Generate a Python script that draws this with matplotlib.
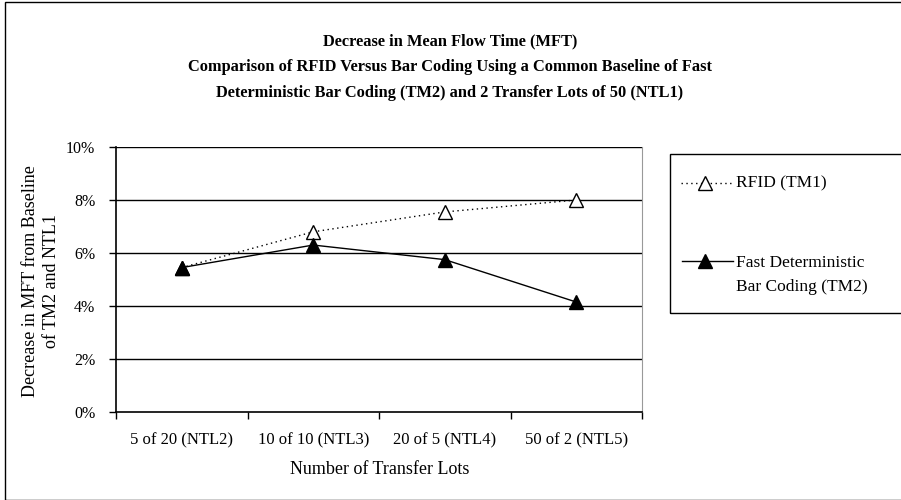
import matplotlib.pyplot as plt
from matplotlib.patches import Rectangle
from matplotlib.lines import Line2D
from matplotlib.ticker import FuncFormatter

# valores de la grafica
lotes = ['5 of 20 (NTL2)', '10 of 10 (NTL3)', '20 of 5 (NTL4)', '50 of 2 (NTL5)']
rfid = [5.45, 6.8, 7.55, 8.0]
barras = [5.45, 6.3, 5.75, 4.15]

plt.rcParams['font.family'] = ['Liberation Serif', 'DejaVu Serif']

fig = plt.figure(figsize=(9.01, 5.0), dpi=100)
W, H = 901, 500

# marco exterior de la grafica
fig.patches.append(Rectangle((5 / W, 0), 1.2, (H - 2) / H, transform=fig.transFigure,
                             fill=False, edgecolor='black', linewidth=1.0))

ax = fig.add_axes([116 / W, 88 / H, (642 - 116) / W, (412 - 147) / H])
x = list(range(len(lotes)))

ax.plot(x, rfid, linestyle=(0, (1, 2.5)), color='black', linewidth=1.0,
        marker='^', markersize=10, markerfacecolor='white', markeredgecolor='black',
        markeredgewidth=1.0, label='RFID (TM1)', zorder=3)
ax.plot(x, barras, linestyle='-', color='black', linewidth=1.0,
        marker='^', markersize=10, markerfacecolor='black', markeredgecolor='black',
        label='Fast Deterministic\nBar Coding (TM2)', zorder=4)

ax.set_xlim(-0.5, len(lotes) - 0.5)
ax.set_ylim(0, 10)

# lineas horizontales de la cuadricula
for v in [2, 4, 6, 8, 10]:
    ax.axhline(v, color='black', linewidth=1.0, zorder=1)

ax.set_yticks([0, 2, 4, 6, 8, 10])
ax.yaxis.set_major_formatter(FuncFormatter(lambda v, p: '%d%%' % v))
ax.tick_params(axis='y', direction='out', length=5, width=1, labelsize=11.5, pad=10)

# marcas en los limites de categoria, etiquetas en el centro
ax.set_xticks([i - 0.5 for i in range(len(lotes) + 1)])
ax.set_xticklabels([])
ax.set_xticks(x, minor=True)
ax.set_xticklabels(lotes, minor=True)
ax.tick_params(axis='x', which='major', direction='out', length=5, width=1)
ax.tick_params(axis='x', which='minor', length=0, labelsize=12, pad=15)

ax.spines['left'].set_linewidth(1.2)
ax.spines['bottom'].set_linewidth(1.2)
ax.spines['top'].set_visible(False)
ax.spines['right'].set_color('#999999')

# titulos de los ejes
fig.text(380 / W, 1 - 470 / H, 'Number of Transfer Lots', ha='center', va='center',
         fontsize=13)
fig.text(41 / W, 1 - 281 / H, 'Decrease in MFT from Baseline\nof TM2 and NTL1',
         rotation=90, ha='center', va='center', fontsize=13, linespacing=1.3)

fig.text(450 / W, 1 - 67 / H,
         'Decrease in Mean Flow Time (MFT)\n'
         'Comparison of RFID Versus Bar Coding Using a Common Baseline of Fast\n'
         'Deterministic Bar Coding (TM2) and 2 Transfer Lots of 50 (NTL1)',
         ha='center', va='center', fontsize=11.8, fontweight='bold', linespacing=1.8)

# cuadro de la leyenda
fig.patches.append(Rectangle((670 / W, 1 - 313 / H), 0.3, (313 - 154) / H,
                             transform=fig.transFigure, fill=False,
                             edgecolor='black', linewidth=1.0))
leg1 = Line2D([681 / W, 731 / W], [1 - 183 / H] * 2, transform=fig.transFigure,
              linestyle=(0, (1, 2.5)), color='black', linewidth=1.0)
leg1m = Line2D([705 / W], [1 - 183 / H], transform=fig.transFigure, marker='^',
               markersize=10, markerfacecolor='white', markeredgecolor='black',
               linestyle='none')
leg2 = Line2D([682 / W, 733 / W], [1 - 261 / H] * 2, transform=fig.transFigure,
              linestyle='-', color='black', linewidth=1.0)
leg2m = Line2D([705 / W], [1 - 261 / H], transform=fig.transFigure, marker='^',
               markersize=10, markerfacecolor='black', markeredgecolor='black',
               linestyle='none')
for l in [leg1, leg1m, leg2, leg2m]:
    fig.lines.append(l)
fig.text(736 / W, 1 - 183 / H, 'RFID (TM1)', ha='left', va='center', fontsize=12.5)
fig.text(736 / W, 1 - 275 / H, 'Fast Deterministic\nBar Coding (TM2)', ha='left',
         va='center', fontsize=12.5, linespacing=1.6)

fig.savefig('out.png', dpi=100)
